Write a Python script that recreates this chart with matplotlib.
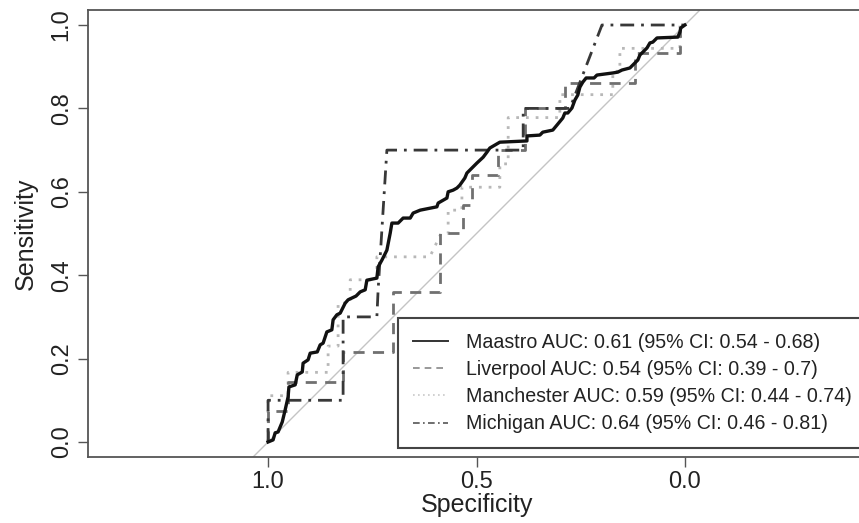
import matplotlib
matplotlib.use("Agg")
import matplotlib.pyplot as plt
from matplotlib.lines import Line2D

plt.rcParams['font.family'] = ['Liberation Sans', 'DejaVu Sans']

# ROC curves (specificity, sensitivity)
maastro_spec = [1.000, 0.988, 0.983, 0.976, 0.966, 0.959, 0.952, 0.950, 0.935, 0.930,
                0.918, 0.916, 0.904, 0.899, 0.882, 0.875, 0.868, 0.859, 0.847, 0.844,
                0.835, 0.827, 0.815, 0.808, 0.789, 0.779, 0.767, 0.763, 0.739, 0.736,
                0.727, 0.715, 0.707, 0.703, 0.688, 0.676, 0.659, 0.652, 0.635, 0.595,
                0.592, 0.571, 0.568, 0.556, 0.547, 0.540, 0.528, 0.523, 0.511, 0.499,
                0.484, 0.475, 0.468, 0.444, 0.379, 0.379, 0.348, 0.341, 0.317, 0.307,
                0.293, 0.288, 0.281, 0.271, 0.264, 0.257, 0.252, 0.245, 0.237, 0.218,
                0.211, 0.173, 0.161, 0.151, 0.132, 0.125, 0.113, 0.108, 0.101, 0.091,
                0.084, 0.077, 0.067, 0.017, 0.012, 0.010, 0.000]
maastro_sens = [0.000, 0.005, 0.022, 0.024, 0.048, 0.077, 0.108, 0.132, 0.137, 0.161,
                0.168, 0.189, 0.197, 0.213, 0.216, 0.233, 0.237, 0.264, 0.269, 0.293,
                0.305, 0.309, 0.333, 0.341, 0.350, 0.360, 0.365, 0.388, 0.393, 0.420,
                0.436, 0.460, 0.501, 0.525, 0.525, 0.537, 0.537, 0.549, 0.556, 0.564,
                0.573, 0.585, 0.600, 0.604, 0.609, 0.616, 0.633, 0.645, 0.657, 0.669,
                0.683, 0.695, 0.705, 0.719, 0.722, 0.734, 0.736, 0.743, 0.748, 0.760,
                0.777, 0.789, 0.789, 0.801, 0.820, 0.832, 0.851, 0.863, 0.873, 0.873,
                0.880, 0.885, 0.887, 0.892, 0.897, 0.904, 0.916, 0.928, 0.935, 0.945,
                0.957, 0.959, 0.969, 0.971, 0.983, 0.993, 1.000]

liverpool_spec = [1.0, 1.0, 0.952, 0.952, 0.820, 0.820, 0.700, 0.700, 0.588, 0.588,
                  0.532, 0.532, 0.511, 0.511, 0.448, 0.448, 0.384, 0.384, 0.288, 0.288,
                  0.120, 0.120, 0.012, 0.012, 0.0]
liverpool_sens = [0.0, 0.074, 0.074, 0.144, 0.144, 0.216, 0.216, 0.360, 0.360, 0.501,
                  0.501, 0.568, 0.568, 0.640, 0.640, 0.700, 0.700, 0.801, 0.801, 0.861,
                  0.861, 0.933, 0.933, 1.0, 1.0]

manchester_spec = [1.0, 1.0, 0.952, 0.952, 0.856, 0.856, 0.832, 0.832, 0.803, 0.803,
                   0.739, 0.739, 0.612, 0.585, 0.568, 0.568, 0.535, 0.535, 0.444, 0.444,
                   0.424, 0.424, 0.300, 0.300, 0.173, 0.173, 0.156, 0.156, 0.012, 0.012, 0.0]
manchester_sens = [0.0, 0.111, 0.111, 0.167, 0.167, 0.230, 0.230, 0.333, 0.333, 0.389,
                   0.389, 0.444, 0.444, 0.500, 0.500, 0.556, 0.556, 0.611, 0.611, 0.667,
                   0.667, 0.778, 0.778, 0.833, 0.833, 0.889, 0.889, 0.944, 0.944, 1.0, 1.0]

michigan_spec = [1.0, 1.0, 0.820, 0.820, 0.739, 0.736, 0.715, 0.388, 0.388, 0.276, 0.199, 0.0]
michigan_sens = [0.0, 0.10, 0.10, 0.30, 0.30, 0.365, 0.70, 0.70, 0.80, 0.80, 1.0, 1.0]

labels = ["Maastro AUC: 0.61 (95% CI: 0.54 - 0.68)",
          "Liverpool AUC: 0.54 (95% CI: 0.39 - 0.7)",
          "Manchester AUC: 0.59 (95% CI: 0.44 - 0.74)",
          "Michigan AUC: 0.64 (95% CI: 0.46 - 0.81)"]

fig = plt.figure(figsize=(8.59, 5.23), dpi=100)
ax = fig.add_axes([88 / 859, 66 / 523, 777 / 859, 447 / 523])

# chance line
ax.plot([1.5, -0.5], [-0.5, 1.5], color="#c4c4c4", lw=1.0, zorder=1)

ax.plot(manchester_spec, manchester_sens, color="#b8b8b8", lw=2.0,
        linestyle=(0, (1, 2.5)), zorder=2)
ax.plot(liverpool_spec, liverpool_sens, color="#707070", lw=2.0,
        linestyle=(0, (4, 3)), zorder=3)
ax.plot(michigan_spec, michigan_sens, color="#383838", lw=2.0,
        linestyle=(0, (5, 2.5, 1, 2.5)), zorder=4)
ax.plot(maastro_spec, maastro_sens, color="#111111", lw=2.4, zorder=5)

ax.set_xlim(1.432, -0.432)
ax.set_ylim(-0.036, 1.036)

ax.set_xticks([1.0, 0.5, 0.0])
ax.set_xticklabels(["1.0", "0.5", "0.0"])
ax.set_yticks([0.0, 0.2, 0.4, 0.6, 0.8, 1.0])
ax.set_yticklabels(["0.0", "0.2", "0.4", "0.6", "0.8", "1.0"], rotation=90, va="center")
ax.tick_params(axis="both", direction="out", length=7, width=1, color="#555555",
               labelsize=17, labelcolor="#222222")
ax.tick_params(axis="x", pad=3)
ax.tick_params(axis="y", pad=4)

for side in ["left", "top", "bottom", "right"]:
    ax.spines[side].set_color("#555555")
    ax.spines[side].set_linewidth(1.3)

ax.set_xlabel("Specificity", fontsize=18, color="#222222", labelpad=0)
ax.set_ylabel("Sensitivity", fontsize=18, color="#222222", labelpad=9)

handles = [Line2D([], [], color="#333333", lw=1.4),
           Line2D([], [], color="#888888", lw=1.2, linestyle=(0, (4, 3))),
           Line2D([], [], color="#c8c8c8", lw=1.2, linestyle=(0, (1, 2))),
           Line2D([], [], color="#555555", lw=1.2, linestyle=(0, (4, 2, 1, 2)))]
leg = ax.legend(handles, labels, loc="lower left", bbox_to_anchor=(0.399, 0.02, 0.6, 0.3),
                mode="expand", fontsize=14.1, frameon=True, fancybox=False, framealpha=1,
                edgecolor="#444444", borderpad=0.75, labelspacing=0.42,
                handlelength=1.8, handletextpad=0.9, borderaxespad=0)
leg.get_frame().set_linewidth(1.5)
for t in leg.get_texts():
    t.set_color("#222222")

fig.savefig("out.png", dpi=100)
